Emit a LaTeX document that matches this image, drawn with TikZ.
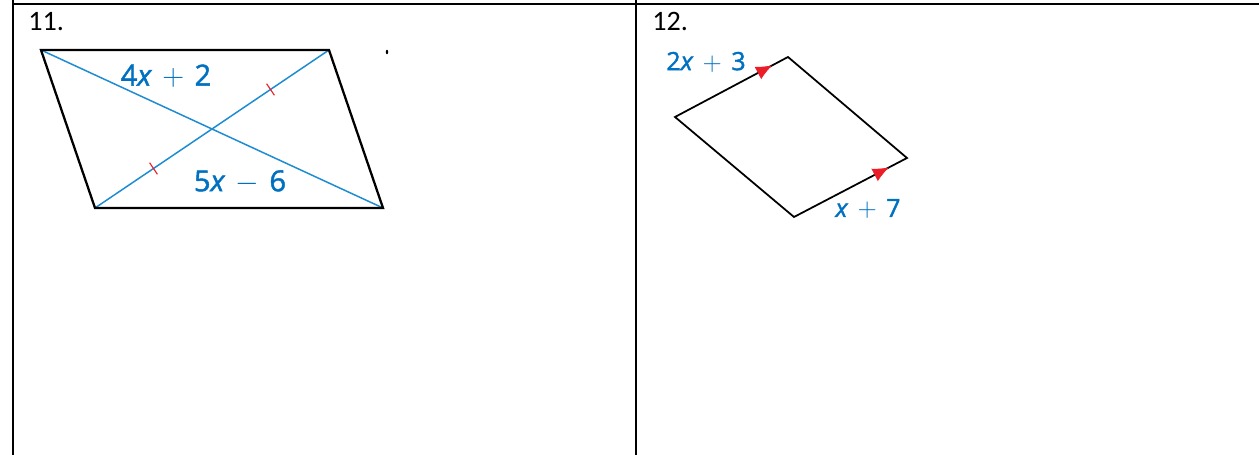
\documentclass[tikz,border=0pt]{standalone}
\usepackage{fontspec}
\setmainfont{Open Sans}
\newfontfamily\numfont{Carlito}
\newfontfamily\lblfont{Open Sans}[FakeBold=1.6]
\usetikzlibrary{calc,arrows.meta,decorations.markings}
\definecolor{lblblue}{RGB}{0,112,192}
\definecolor{diagblue}{RGB}{30,140,210}
\definecolor{markred}{RGB}{235,30,40}
\newcommand{\opgap}{\kern1.6pt}
\begin{document}
\begin{tikzpicture}[
    x=0.02cm, y=-0.02cm,
    rule/.style={draw, line width=1.4pt},
    edge/.style={draw, line width=1.3pt, line join=miter},
    thinedge/.style={draw, line width=1pt, line join=miter},
    diag/.style={draw=diagblue, line width=0.85pt},
    tick/.style={draw=markred, line width=0.65pt},
    lbl/.style={text=lblblue, inner sep=0pt},
    num/.style={font=\numfont\fontsize{16}{18}\selectfont, anchor=base west, inner sep=0pt},
    midarrow/.style={postaction={decorate}, decoration={markings,
        mark=at position #1 with {\arrow[markred]{Latex[length=0.32cm, width=0.28cm]}}}}
]
\useasboundingbox (0,0) rectangle (1259,455);
% table rules
\draw[rule] (13,4) -- (1259,4);
\draw[rule] (13,0) -- (13,455);
\draw[rule] (636,0) -- (636,455);
\node[num] (n11) at (28,31) {11.};
\node[num] (n12) at (652,31) {12.};

% figure 11
\coordinate (tl) at (41,50);
\coordinate (tr) at (329,50);
\coordinate (br) at (383,208);
\coordinate (bl) at (95,208);
\draw[diag] (tl) -- (br);
\draw[diag] (bl) -- (tr);
\draw[edge] (tl) -- (tr) -- (br) -- (bl) -- cycle;
\coordinate (q1) at ($(bl)!0.25!(tr)$);
\coordinate (q3) at ($(bl)!0.75!(tr)$);
\draw[tick] ($(q1)!0.14cm!90:(tr)$) -- ($(q1)!0.14cm!-90:(tr)$);
\draw[tick] ($(q3)!0.14cm!90:(tr)$) -- ($(q3)!0.14cm!-90:(tr)$);
\node[lbl, font=\lblfont\fontsize{16.5}{18}\selectfont] (top11) at (166,76) {4\textit{x}\ \opgap$+$\opgap\ 2};
\node[lbl, font=\lblfont\fontsize{16.5}{18}\selectfont] (bot11) at (240,182) {5\textit{x}\ \opgap$-$\opgap\ 6};
\fill (387,52) ellipse (1.2 and 2.2);

% figure 12
\coordinate (pt) at (788,57);
\coordinate (pl) at (675,117);
\coordinate (pb) at (794,217);
\coordinate (pr) at (907,158);
\draw[thinedge] (pl) -- (pt) -- (pr) -- (pb) -- cycle;
\path[midarrow=0.86] (pl) -- (pt);
\path[midarrow=0.84] (pb) -- (pr);
\node[lbl, font=\lblfont\fontsize{14.3}{16}\selectfont] (top12) at (706,62) {2\textit{x}\ \opgap$+$\opgap\ 3};
\node[lbl, font=\lblfont\fontsize{14.3}{16}\selectfont] (bot12) at (868,209) {\textit{x}\ \opgap$+$\opgap\ 7};
\end{tikzpicture}
\end{document}
